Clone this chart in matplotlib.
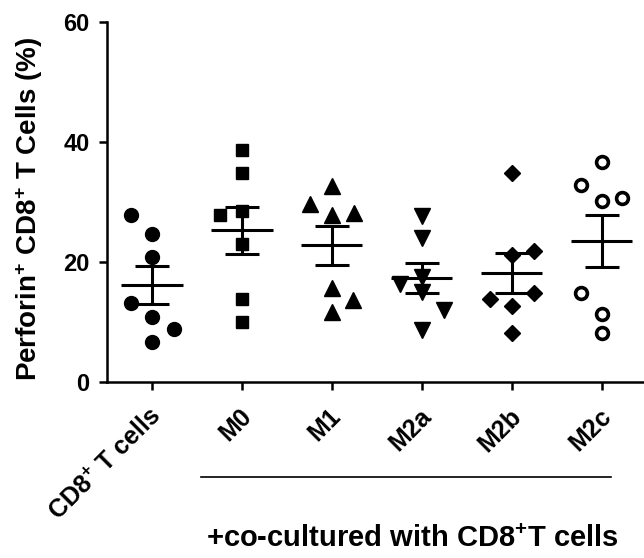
# Perforin+ CD8+ T cells: scatter with mean +/- SEM per group
import numpy as np
import matplotlib
matplotlib.use("Agg")
import matplotlib.pyplot as plt

plt.rcParams['font.family'] = ['Liberation Sans', 'DejaVu Sans']
plt.rcParams['mathtext.fontset'] = 'custom'
plt.rcParams['mathtext.rm'] = 'Liberation Sans:bold'
plt.rcParams['mathtext.it'] = 'Liberation Sans:bold'

# groups and values (%)
groups = ["CD8$^{+}$ T cells", "M0", "M1", "M2a", "M2b", "M2c"]
cd8_only = [27.8, 24.7, 20.9, 13.1, 10.9, 8.8, 6.7]
m0 = [38.7, 34.9, 28.5, 27.8, 23.0, 13.9, 10.0]
m1 = [32.7, 29.7, 28.1, 27.8, 15.6, 13.7, 11.7]
m2a = [27.7, 24.0, 17.5, 16.3, 15.0, 12.0, 8.7]
m2b = [34.8, 21.9, 21.2, 14.9, 13.9, 12.6, 8.1]
m2c = [36.6, 32.8, 30.6, 30.1, 14.8, 11.4, 8.2]
values = [cd8_only, m0, m1, m2a, m2b, m2c]

# horizontal scatter of the points within each column
x_offsets = [
    [-0.23, 0, 0, -0.23, 0, 0.25, 0],
    [0, 0, 0, -0.24, 0, 0, 0],
    [0, -0.24, 0.25, 0, 0, 0.24, 0],
    [0, 0, 0, -0.24, 0, 0.25, 0],
    [0, 0.25, 0, 0.25, -0.24, 0, 0],
    [0, -0.23, 0.23, 0, -0.23, 0, 0],
]

# marker, size, face colour, edge width
styles = [
    ('o', 10, 'black', 1),
    ('s', 8.5, 'black', 1),
    ('^', 11, 'black', 1),
    ('v', 11, 'black', 1),
    ('D', 8.5, 'black', 1),
    ('o', 8.5, 'white', 2.6),
]

fig = plt.figure(figsize=(6.44, 5.58), dpi=100)
ax = fig.add_axes([107 / 644, 176 / 558, 1 - 107 / 644, 360 / 558])

for i, (vals, offs, st) in enumerate(zip(values, x_offsets, styles)):
    vals = np.array(vals)
    xs = i + np.array(offs)
    mk, ms, fc, mew = st
    ax.plot(xs, vals, linestyle='none', marker=mk, markersize=ms,
            markerfacecolor=fc, markeredgecolor='black', markeredgewidth=mew,
            zorder=3)
    mean = vals.mean()
    sem = vals.std(ddof=1) / np.sqrt(len(vals))
    ax.hlines(mean, i - 0.34, i + 0.34, color='black', lw=2.2, zorder=4)
    ax.errorbar(i, mean, yerr=sem, fmt='none', ecolor='black', elinewidth=2.2,
                capsize=12, capthick=2.2, zorder=4)

ax.set_xlim(-0.5, 5.47)
ax.set_ylim(0, 60)
ax.set_yticks([0, 20, 40, 60])
ax.set_xticks(range(len(groups)))
ax.set_xticklabels([])
for lab in ax.get_yticklabels():
    lab.set_fontsize(17)
    lab.set_fontweight('bold')

trans = ax.get_xaxis_transform()
# slanted group labels, placed a bit right of and below each tick
for i, name in enumerate(groups):
    ax.annotate(name, xy=(i, 0), xycoords=trans, xytext=(4, -22),
                textcoords='offset points', rotation=45, ha='right',
                va='center', rotation_mode='anchor', fontsize=18,
                fontweight='bold', annotation_clip=False)

for side in ['top', 'right']:
    ax.spines[side].set_visible(False)
for side in ['left', 'bottom']:
    ax.spines[side].set_linewidth(1.8)
ax.tick_params(axis='both', length=5.5, width=1.8, direction='out')
ax.tick_params(axis='y', pad=7)

ax.set_ylabel("Perforin$^{+}$ CD8$^{+}$ T Cells (%)", fontsize=20,
              fontweight='bold')
ax.yaxis.set_label_coords(-0.115, 0.48)

# bracket line and label under the co-culture groups
ax.plot([0.55, 5.1], [-0.264, -0.264], color='black', lw=1.2,
        transform=trans, clip_on=False)
ax.text(2.9, -0.435, "+co-cultured with CD8$^{+}$T cells", transform=trans,
        ha='center', va='center', fontsize=21, fontweight='bold')

fig.savefig("out.png", dpi=100)
